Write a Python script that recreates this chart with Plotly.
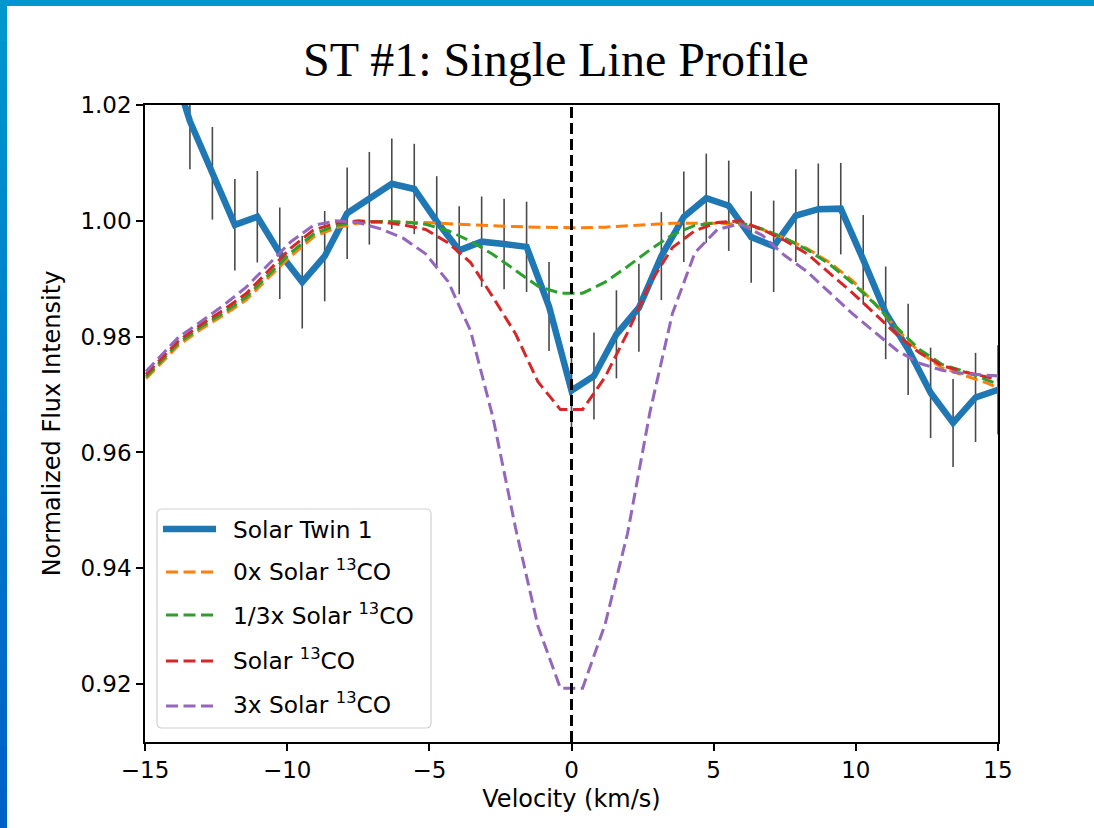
import plotly.graph_objects as go

# ---------------- data ----------------
velocity_obs = [-15.0, -14.21, -13.42, -12.63, -11.84, -11.05, -10.26, -9.47, -8.68, -7.89,
                -7.11, -6.32, -5.53, -4.74, -3.95, -3.16, -2.37, -1.58, -0.79, 0.0,
                0.79, 1.58, 2.37, 3.16, 3.95, 4.74, 5.53, 6.32, 7.11, 7.89,
                8.68, 9.47, 10.26, 11.05, 11.84, 12.63, 13.42, 14.21, 15.0]
flux_obs = [1.0360, 1.0295, 1.0172, 1.0082, 0.9993, 1.0007, 0.9944, 0.9894, 0.9939, 1.0013,
            1.0039, 1.0064, 1.0055, 0.9999, 0.9949, 0.9964, 0.9960, 0.9955, 0.9852, 0.9707,
            0.9732, 0.9804, 0.9850, 0.9939, 1.0007, 1.0039, 1.0026, 0.9972, 0.9956, 1.0009,
            1.0020, 1.0021, 0.9933, 0.9841, 0.9778, 0.9703, 0.9651, 0.9695, 0.9708]
flux_err = [0.0080, 0.0080, 0.0083, 0.0080, 0.0079, 0.0079, 0.0079, 0.0080, 0.0078, 0.0079,
            0.0080, 0.0078, 0.0078, 0.0078, 0.0076, 0.0078, 0.0078, 0.0078, 0.0077, 0.0077,
            0.0075, 0.0076, 0.0076, 0.0076, 0.0078, 0.0077, 0.0078, 0.0079, 0.0079, 0.0080,
            0.0079, 0.0079, 0.0077, 0.0080, 0.0079, 0.0078, 0.0076, 0.0077, 0.0077]

velocity_model = [-15.39, -14.61, -13.82, -13.03, -12.24, -11.45, -10.66, -9.87, -9.08, -8.29,
                  -7.50, -6.71, -5.92, -5.13, -4.34, -3.55, -2.76, -1.97, -1.18, -0.39,
                  0.39, 1.18, 1.97, 2.76, 3.55, 4.34, 5.13, 5.92, 6.71, 7.50,
                  8.29, 9.08, 9.87, 10.66, 11.45, 12.24, 13.03, 13.82, 14.61, 15.39]
model_0x = [0.9706, 0.9745, 0.9785, 0.9813, 0.9837, 0.9863, 0.9902, 0.9939, 0.9972, 0.9988,
            0.9996, 0.9998, 0.9998, 0.9997, 0.9995, 0.9993, 0.9991, 0.9990, 0.9989, 0.9988,
            0.9988, 0.9989, 0.9991, 0.9994, 0.9996, 0.9996, 0.9996, 0.9994, 0.9985, 0.9970,
            0.9952, 0.9928, 0.9897, 0.9858, 0.9813, 0.9773, 0.9746, 0.9733, 0.9720, 0.9703]
model_third = [0.9709, 0.9749, 0.9789, 0.9817, 0.9841, 0.9868, 0.9907, 0.9945, 0.9977, 0.9992,
               0.9998, 0.9999, 0.9998, 0.9994, 0.9983, 0.9965, 0.9942, 0.9915, 0.9887, 0.9875,
               0.9875, 0.9894, 0.9921, 0.9950, 0.9976, 0.9992, 0.9997, 0.9997, 0.9986, 0.9970,
               0.9950, 0.9925, 0.9893, 0.9857, 0.9815, 0.9778, 0.9752, 0.9740, 0.9725, 0.9711]
model_solar = [0.9713, 0.9753, 0.9793, 0.9821, 0.9846, 0.9874, 0.9914, 0.9953, 0.9984, 0.9996,
               1.0000, 0.9998, 0.9993, 0.9985, 0.9962, 0.9928, 0.9868, 0.9805, 0.9722, 0.9674,
               0.9674, 0.9730, 0.9807, 0.9892, 0.9954, 0.9983, 0.9997, 1.0000, 0.9985, 0.9966,
               0.9943, 0.9909, 0.9876, 0.9840, 0.9803, 0.9772, 0.9750, 0.9739, 0.9731, 0.9722]
model_3x = [0.9718, 0.9758, 0.9799, 0.9826, 0.9854, 0.9885, 0.9925, 0.9964, 0.9992, 1.0000,
            0.9997, 0.9986, 0.9970, 0.9943, 0.9895, 0.9810, 0.9660, 0.9470, 0.9300, 0.9193,
            0.9193, 0.9303, 0.9460, 0.9670, 0.9840, 0.9945, 0.9985, 0.9995, 0.9975, 0.9940,
            0.9912, 0.9876, 0.9840, 0.9808, 0.9776, 0.9754, 0.9742, 0.9736, 0.9733, 0.9731]

rest_velocity = 0.0
x_ticks = [-15, -10, -5, 0, 5, 10, 15]
x_tick_labels = ["\u221215", "\u221210", "\u22125", "0", "5", "10", "15"]
y_ticks = [0.92, 0.94, 0.96, 0.98, 1.00, 1.02]
y_tick_labels = ["0.92", "0.94", "0.96", "0.98", "1.00", "1.02"]

series_names = ["Solar Twin 1", "0x Solar <sup>13</sup>CO", "1/3x Solar <sup>13</sup>CO",
                "Solar <sup>13</sup>CO", "3x Solar <sup>13</sup>CO"]
colors = ["#1f77b4", "#ff7f0e", "#2ca02c", "#d62728", "#9467bd"]

# ---------------- layout geometry ----------------
W, H = 1094, 828
L, R, T, B = 145, 96, 105, 86
PW, PH = W - L - R, H - T - B


def px(xp):
    return (xp - L) / PW


def py(yp):
    return (H - B - yp) / PH


TICK_FONT = dict(family="DejaVu Sans", size=23, color="#000000")
LAB_FONT = dict(family="DejaVu Sans", size=24, color="#000000")
LEG_FONT = dict(family="DejaVu Sans", size=23.3, color="#000000")

fig = go.Figure()

fig.add_trace(go.Scatter(
    x=velocity_obs, y=flux_obs, mode="lines",
    line=dict(color=colors[0], width=6.5),
    error_y=dict(type="data", array=flux_err, visible=True, color="#4a4a4a",
                 thickness=1.6, width=0),
    showlegend=False, name="Solar Twin 1"))

for ys, c in zip([model_0x, model_third, model_solar, model_3x], colors[1:]):
    fig.add_trace(go.Scatter(
        x=velocity_model, y=ys, mode="lines",
        line=dict(color=c, width=3, dash="12px,5.5px"),
        showlegend=False))

shapes = []
# rest-velocity marker
shapes.append(dict(type="line", xref="x", yref="paper", x0=rest_velocity, x1=rest_velocity,
                   y0=0, y1=1, line=dict(color="black", width=3, dash="11px,5px"),
                   layer="above"))

# slide decoration (blue border)
shapes.append(dict(type="rect", xref="paper", yref="paper", x0=px(0), x1=px(W),
                   y0=py(6), y1=py(0), fillcolor="#0097CE", line=dict(width=0),
                   layer="below"))
n_seg = 40
for i in range(n_seg):
    t = i / (n_seg - 1)
    g = int(round(151 + (96 - 151) * t))
    b = int(round(206 + (198 - 206) * t))
    y_top = i * H / n_seg
    y_bot = (i + 1) * H / n_seg + 1
    shapes.append(dict(type="rect", xref="paper", yref="paper", x0=px(0), x1=px(7),
                       y0=py(y_bot), y1=py(y_top), fillcolor=f"rgb(0,{g},{b})",
                       line=dict(width=0), layer="below"))

# custom legend box (rounded)
bx0, bx1, by0, by1, rad = 157, 431, 509, 728, 5


def P(x, y):
    return f"{px(x):.5f},{py(y):.5f}"


path = (f"M {P(bx0 + rad, by0)} L {P(bx1 - rad, by0)} Q {P(bx1, by0)} {P(bx1, by0 + rad)} "
        f"L {P(bx1, by1 - rad)} Q {P(bx1, by1)} {P(bx1 - rad, by1)} "
        f"L {P(bx0 + rad, by1)} Q {P(bx0, by1)} {P(bx0, by1 - rad)} "
        f"L {P(bx0, by0 + rad)} Q {P(bx0, by0)} {P(bx0 + rad, by0)} Z")
shapes.append(dict(type="path", xref="paper", yref="paper", path=path,
                   fillcolor="rgba(255,255,255,0.8)", line=dict(color="#d0d0d0", width=1.2),
                   layer="above"))

legend_line_y = [529, 572, 615, 661, 706]
legend_base_y = [537.5, 580, 624, 668.5, 712.5]
annotations = []
for i, (name, c) in enumerate(zip(series_names, colors)):
    if i == 0:
        shapes.append(dict(type="line", xref="paper", yref="paper", x0=px(163), x1=px(216),
                           y0=py(legend_line_y[i]), y1=py(legend_line_y[i]),
                           line=dict(color=c, width=6.5), layer="above"))
    else:
        shapes.append(dict(type="line", xref="paper", yref="paper", x0=px(166), x1=px(216),
                           y0=py(legend_line_y[i]), y1=py(legend_line_y[i]),
                           line=dict(color=c, width=3, dash="12px,5.5px"), layer="above"))
    annotations.append(dict(xref="paper", yref="paper", x=px(232), y=py(legend_base_y[i] + 6),
                            xanchor="left", yanchor="bottom", text=name, showarrow=False,
                            font=LEG_FONT, borderpad=0))

fig.update_layout(
    width=W, height=H, autosize=False,
    margin=dict(l=L, r=R, t=T, b=B, pad=0),
    paper_bgcolor="white", plot_bgcolor="white",
    title=dict(text="ST #1: Single Line Profile", x=556 / W, xanchor="center",
               y=1 - 59 / H, yanchor="middle", xref="container", yref="container",
               font=dict(family="Liberation Serif", size=48, color="black")),
    xaxis=dict(range=[-15, 15], tickvals=x_ticks, ticktext=x_tick_labels,
               showgrid=False, zeroline=False, showline=True, linecolor="black",
               linewidth=1.5, mirror=True, ticks="outside", ticklen=7, tickwidth=1.5,
               tickcolor="black", tickfont=TICK_FONT,
               title=dict(text="Velocity (km/s)", font=LAB_FONT, standoff=8)),
    yaxis=dict(range=[0.91, 1.02], tickvals=y_ticks, ticktext=y_tick_labels,
               showgrid=False, zeroline=False, showline=True, linecolor="black",
               linewidth=1.5, mirror=True, ticks="outside", ticklen=7, tickwidth=1.5,
               tickcolor="black", tickfont=TICK_FONT,
               title=dict(text="Normalized Flux Intensity", font=LAB_FONT, standoff=13)),
    shapes=shapes, annotations=annotations,
)

fig.write_html("out.html")
